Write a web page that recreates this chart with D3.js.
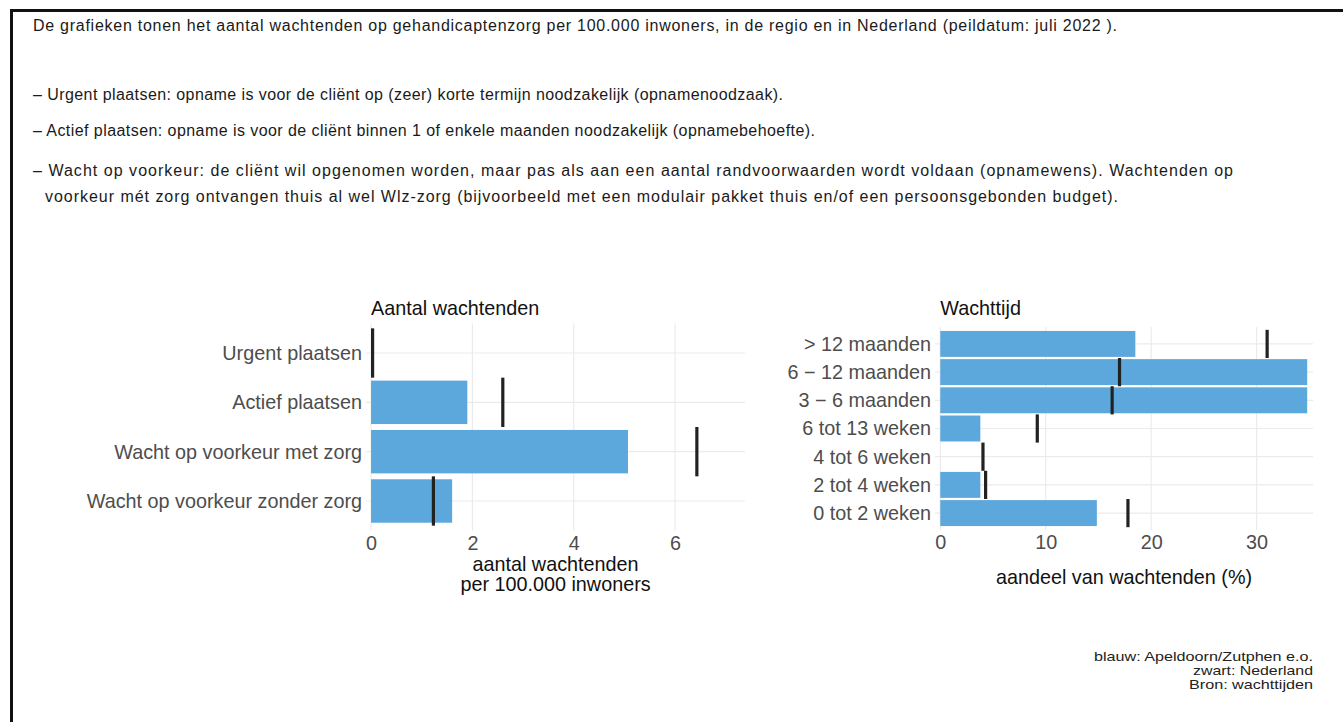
<!DOCTYPE html>
<html>
<head>
<meta charset="utf-8">
<script src="https://cdn.jsdelivr.net/npm/d3@7"></script>
<style>
  html, body { margin: 0; padding: 0; background: #fff; }
  svg { display: block; }
  text { font-family: "Liberation Sans", Arial, sans-serif; }
</style>
</head>
<body>
<svg id="chart" width="1343" height="722"></svg>
<script>
// Waiting list figures per 100,000 inhabitants (left) and waiting time shares (right)
const countCategories = ["Urgent plaatsen", "Actief plaatsen", "Wacht op voorkeur met zorg", "Wacht op voorkeur zonder zorg"];
const countRegion = [0, 1.9, 5.07, 1.6];
const countNational = [0.03, 2.6, 6.43, 1.23];
const countTicks = [0, 2, 4, 6];

const timeCategories = ["> 12 maanden", "6 \u2212 12 maanden", "3 \u2212 6 maanden", "6 tot 13 weken", "4 tot 6 weken", "2 tot 4 weken", "0 tot 2 weken"];
const timeRegion = [18.5, 34.8, 34.8, 3.8, 0, 3.8, 14.85];
const timeNational = [31.0, 17.0, 16.3, 9.2, 4.05, 4.3, 17.8];
const timeTicks = [0, 10, 20, 30];

const introLines = [
  "De grafieken tonen het aantal wachtenden op gehandicaptenzorg per 100.000 inwoners, in de regio en in Nederland (peildatum: juli 2022 ).",
  "\u2013 Urgent plaatsen: opname is voor de cli\u00ebnt op (zeer) korte termijn noodzakelijk (opnamenoodzaak).",
  "\u2013 Actief plaatsen: opname is voor de cli\u00ebnt binnen 1 of enkele maanden noodzakelijk (opnamebehoefte).",
  "\u2013 Wacht op voorkeur: de cli\u00ebnt wil opgenomen worden, maar pas als aan een aantal randvoorwaarden wordt voldaan (opnamewens). Wachtenden op",
  "voorkeur m\u00e9t zorg ontvangen thuis al wel Wlz-zorg (bijvoorbeeld met een modulair pakket thuis en/of een persoonsgebonden budget)."
];
const captionLines = ["blauw: Apeldoorn/Zutphen e.o.", "zwart: Nederland", "Bron: wachttijden"];

const BLUE = "#5ca7dc";
const DARK = "#222222";
const GRID = "#ebebeb";
const LABEL = "#4d4d4d";
const FS = 19.8;

const svg = d3.select("#chart");

// outer frame
svg.append("rect")
  .attr("x", 11.5).attr("y", 10.5)
  .attr("width", 1400).attr("height", 800)
  .attr("fill", "none").attr("stroke", "#111").attr("stroke-width", 3);

// intro text, set in a loosely spaced line
const introLayout = [[33, 31, 1084], [33, 100, 750], [33, 136, 782], [33, 176, 1200], [45, 202, 1073]];
svg.selectAll("text.intro").data(introLines).join("text")
  .attr("class", "intro")
  .attr("x", (d, i) => introLayout[i][0])
  .attr("y", (d, i) => introLayout[i][1])
  .attr("textLength", (d, i) => introLayout[i][2])
  .attr("lengthAdjust", "spacing")
  .attr("font-size", 16)
  .attr("fill", "#1a1a1a")
  .text(d => d);

function panel(cfg) {
  const g = svg.append("g");
  const x = d3.scaleLinear().domain(cfg.xDomain).range([cfg.left, cfg.right]);
  const y = d3.scalePoint().domain(cfg.categories).range([cfg.top, cfg.bottom]).padding(0.6);
  const step = y.step();

  // grid
  g.selectAll("line.hgrid").data(cfg.categories).join("line")
    .attr("x1", cfg.left).attr("x2", cfg.right)
    .attr("y1", d => y(d)).attr("y2", d => y(d))
    .attr("stroke", GRID).attr("stroke-width", 1.2);
  g.selectAll("line.vgrid").data(cfg.ticks).join("line")
    .attr("x1", d => x(d)).attr("x2", d => x(d))
    .attr("y1", cfg.top).attr("y2", cfg.bottom)
    .attr("stroke", GRID).attr("stroke-width", 1.2);

  // regional bars
  const bh = step * cfg.barWidth;
  g.selectAll("rect.bar").data(cfg.categories).join("rect")
    .attr("x", x(0))
    .attr("y", d => y(d) - bh / 2)
    .attr("width", (d, i) => Math.max(0, x(cfg.region[i]) - x(0)))
    .attr("height", bh)
    .attr("fill", BLUE);

  // national markers
  g.selectAll("line.nat").data(cfg.categories).join("line")
    .attr("x1", (d, i) => x(cfg.national[i]))
    .attr("x2", (d, i) => x(cfg.national[i]))
    .attr("y1", d => y(d) - step * 0.5)
    .attr("y2", d => y(d) + step * 0.5)
    .attr("stroke", DARK).attr("stroke-width", 3.2);

  // axes
  const xa = g.append("g").attr("transform", `translate(0,${cfg.bottom})`)
    .call(d3.axisBottom(x).tickValues(cfg.ticks).tickFormat(d3.format("d")).tickSize(0).tickPadding(5));
  xa.select(".domain").remove();
  xa.selectAll("text").attr("font-size", FS).attr("fill", LABEL);

  const ya = g.append("g").attr("transform", `translate(${cfg.left},0)`)
    .call(d3.axisLeft(y).tickSize(0).tickPadding(4));
  ya.select(".domain").remove();
  ya.selectAll("text").attr("font-size", FS).attr("fill", LABEL);

  // title
  g.append("text").attr("x", x(0)).attr("y", 315)
    .attr("font-size", FS).attr("fill", "#111").text(cfg.title);

  // axis title
  const cx = (cfg.left + cfg.right) / 2;
  g.selectAll("text.xtitle").data(cfg.xTitle).join("text")
    .attr("x", cx).attr("y", (d, i) => cfg.xTitleY + i * 20)
    .attr("text-anchor", "middle")
    .attr("font-size", FS).attr("fill", "#111")
    .text(d => d);
}

panel({
  categories: countCategories, region: countRegion, national: countNational, ticks: countTicks,
  xDomain: [-0.1, 7.38], left: 366, right: 745, top: 323.4, bottom: 530.6, barWidth: 0.88,
  title: "Aantal wachtenden", xTitle: ["aantal wachtenden", "per 100.000 inwoners"], xTitleY: 571
});

panel({
  categories: timeCategories, region: timeRegion, national: timeNational, ticks: timeTicks,
  xDomain: [-0.5, 35.35], left: 935, right: 1313, top: 327, bottom: 530, barWidth: 0.92,
  title: "Wachttijd", xTitle: ["aandeel van wachtenden (%)"], xTitleY: 584
});

// source caption, compact and widened
const captionWidths = [219, 120, 124];
svg.selectAll("text.caption").data(captionLines).join("text")
  .attr("class", "caption")
  .attr("x", 1313)
  .attr("y", (d, i) => 661 + i * 14)
  .attr("text-anchor", "end")
  .attr("textLength", (d, i) => captionWidths[i])
  .attr("lengthAdjust", "spacingAndGlyphs")
  .attr("font-size", 12.4)
  .attr("fill", "#222")
  .text(d => d);
</script>
</body>
</html>
